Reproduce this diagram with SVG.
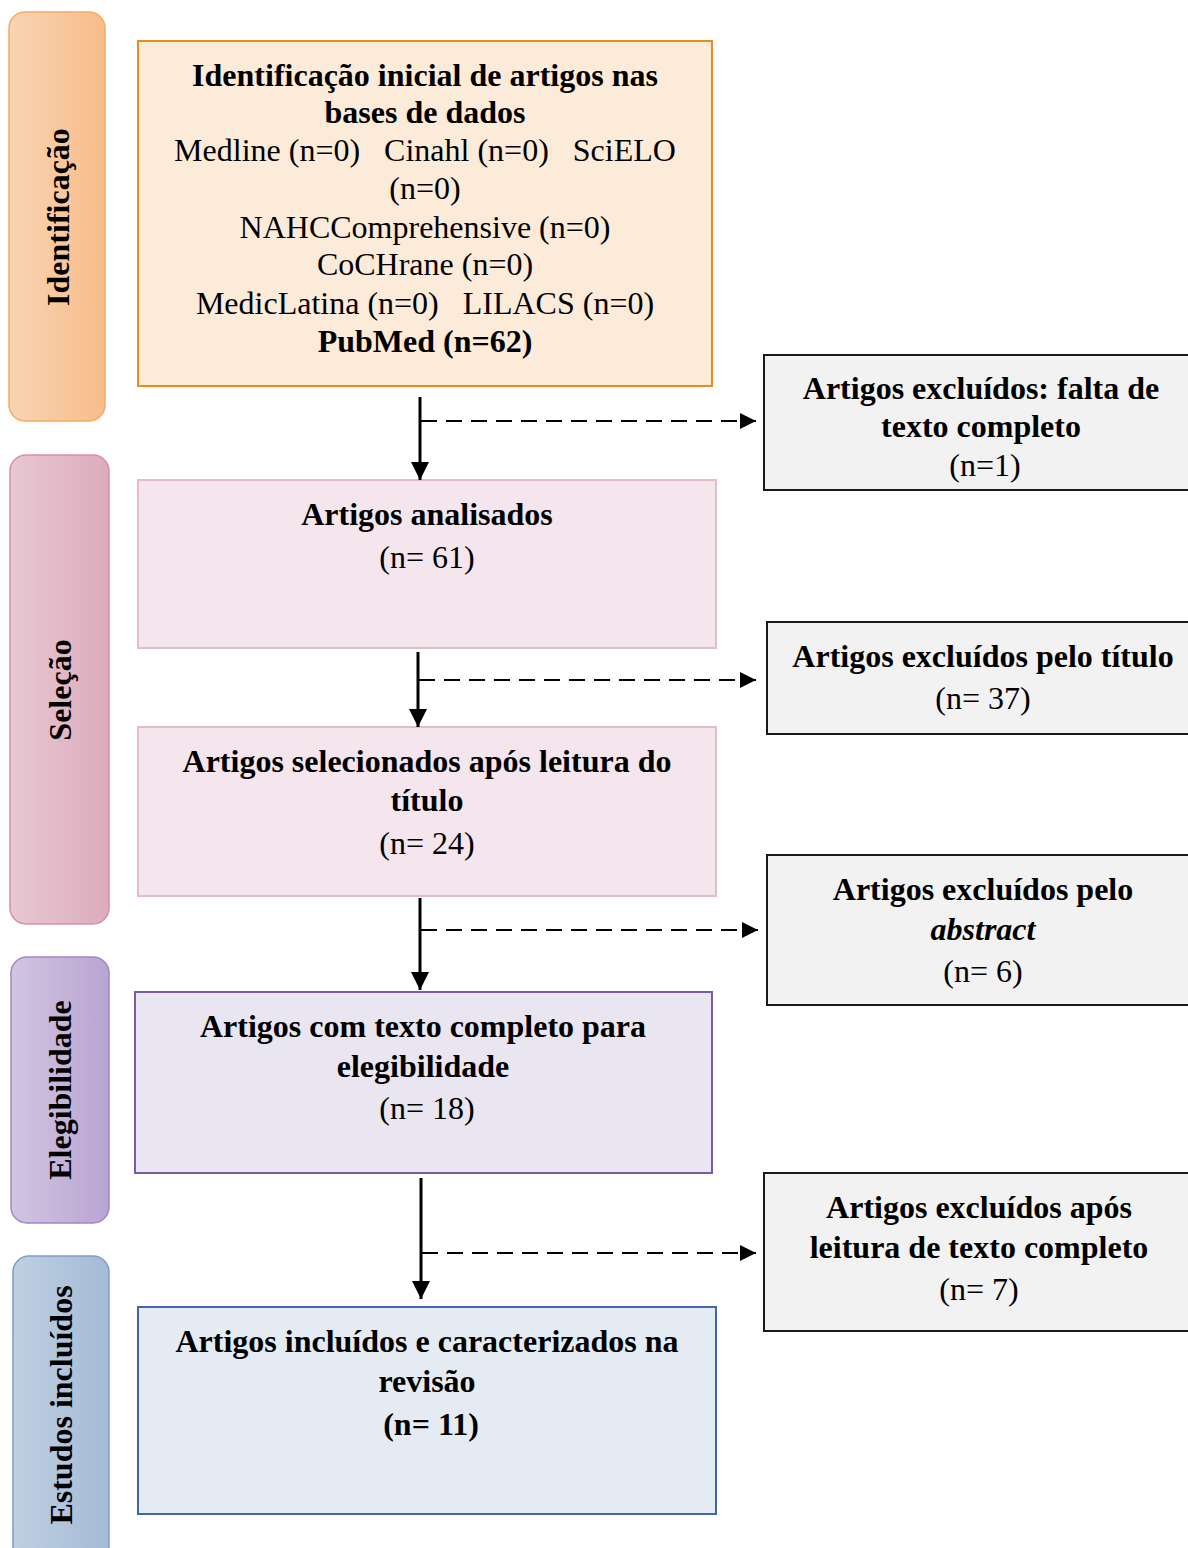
<svg xmlns="http://www.w3.org/2000/svg" width="1188" height="1548" viewBox="0 0 1188 1548">
<defs>
<linearGradient id="gO" x1="0" x2="1" y1="0" y2="0"><stop offset="0" stop-color="#f9d4b3"/><stop offset="1" stop-color="#f8bd8a"/></linearGradient>
<linearGradient id="gP" x1="0" x2="1" y1="0" y2="0"><stop offset="0" stop-color="#e8c7d3"/><stop offset="1" stop-color="#ddacbc"/></linearGradient>
<linearGradient id="gV" x1="0" x2="1" y1="0" y2="0"><stop offset="0" stop-color="#d2c5e2"/><stop offset="1" stop-color="#b9a4d2"/></linearGradient>
<linearGradient id="gB" x1="0" x2="1" y1="0" y2="0"><stop offset="0" stop-color="#bed0e2"/><stop offset="1" stop-color="#a5bad6"/></linearGradient>
<marker id="ah" viewBox="0 0 10 10" refX="10" refY="5" markerWidth="6" markerHeight="6" orient="auto" markerUnits="strokeWidth"><path d="M0,0 L10,5 L0,10 z" fill="#000"/></marker>
<marker id="ah2" viewBox="0 0 10 10" refX="10" refY="5" markerWidth="9" markerHeight="8" orient="auto" markerUnits="strokeWidth"><path d="M0,0 L10,5 L0,10 z" fill="#000"/></marker>
</defs>
<style>
text{font-family:"Liberation Serif","Times New Roman",serif;font-size:32px;fill:#000;text-anchor:middle;white-space:pre}
.b{font-weight:bold}
.side{font-weight:bold;font-size:32px}
.ex{fill:#f2f2f2;stroke:#1a1a1a;stroke-width:2}
.solid{stroke:#000;stroke-width:3;fill:none}
.dash{stroke:#000;stroke-width:2;fill:none;stroke-dasharray:16 9}
</style>
<g id="phase-identificacao">
<rect x="9" y="12" width="96" height="409" rx="16" fill="url(#gO)" stroke="#f2ab63" stroke-width="1.5"/>
<text class="side" transform="translate(69,217) rotate(-90)">Identificação</text>
</g>
<g id="phase-selecao">
<rect x="10" y="455" width="99" height="469" rx="16" fill="url(#gP)" stroke="#d690a6" stroke-width="1.5"/>
<text class="side" transform="translate(71,690) rotate(-90)">Seleção</text>
</g>
<g id="phase-elegibilidade">
<rect x="11" y="957" width="98" height="266" rx="16" fill="url(#gV)" stroke="#a386c2" stroke-width="1.5"/>
<text class="side" transform="translate(71,1090) rotate(-90)">Elegibilidade</text>
</g>
<g id="phase-incluidos">
<rect x="13" y="1256" width="96" height="310" rx="16" fill="url(#gB)" stroke="#7f9dc4" stroke-width="1.5"/>
<text class="side" transform="translate(72,1405) rotate(-90)">Estudos incluídos</text>
</g>
<g id="box-identificacao">
<rect x="138" y="41" width="574" height="345" fill="#fdebd9" stroke="#e98c1e" stroke-width="2"/>
<text class="b" x="425" y="86">Identificação inicial de artigos nas</text>
<text class="b" x="425" y="123">bases de dados</text>
<text x="425" y="161">Medline (n=0)   Cinahl (n=0)   SciELO</text>
<text x="425" y="199">(n=0)</text>
<text x="425" y="238">NAHCComprehensive (n=0)</text>
<text x="425" y="275">CoCHrane (n=0)</text>
<text x="425" y="314">MedicLatina (n=0)   LILACS (n=0)</text>
<text class="b" x="425" y="352">PubMed (n=62)</text>
</g>
<g id="box-analisados">
<rect x="138" y="480" width="578" height="168" fill="#f4e6ec" stroke="#e6bccb" stroke-width="2"/>
<text class="b" x="427" y="525">Artigos analisados</text>
<text x="427" y="568">(n= 61)</text>
</g>
<g id="box-titulo">
<rect x="138" y="727" width="578" height="169" fill="#f4e6ec" stroke="#e6bccb" stroke-width="2"/>
<text class="b" x="427" y="772">Artigos selecionados após leitura do</text>
<text class="b" x="427" y="811">título</text>
<text x="427" y="854">(n= 24)</text>
</g>
<g id="box-elegibilidade">
<rect x="135" y="992" width="577" height="181" fill="#e9e5f1" stroke="#7b5ca2" stroke-width="2"/>
<text class="b" x="423" y="1037">Artigos com texto completo para</text>
<text class="b" x="423" y="1077">elegibilidade</text>
<text x="427" y="1119">(n= 18)</text>
</g>
<g id="box-incluidos">
<rect x="138" y="1307" width="578" height="207" fill="#e5ebf3" stroke="#3f67aa" stroke-width="2"/>
<text class="b" x="427" y="1352">Artigos incluídos e caracterizados na</text>
<text class="b" x="427" y="1392">revisão</text>
<text class="b" x="431" y="1435">(n= 11)</text>
</g>
<g id="ex-texto">
<rect class="ex" x="764" y="355" width="430" height="135"/>
<text class="b" x="981" y="399">Artigos excluídos: falta de</text>
<text class="b" x="981" y="437">texto completo</text>
<text x="985" y="476">(n=1)</text>
</g>
<g id="ex-titulo">
<rect class="ex" x="767" y="622" width="427" height="112"/>
<text class="b" x="983" y="667">Artigos excluídos pelo título</text>
<text x="983" y="709">(n= 37)</text>
</g>
<g id="ex-abstract">
<rect class="ex" x="767" y="855" width="427" height="150"/>
<text class="b" x="983" y="900">Artigos excluídos pelo</text>
<text class="b" x="983" y="940" font-style="italic">abstract</text>
<text x="983" y="982">(n= 6)</text>
</g>
<g id="ex-completo">
<rect class="ex" x="764" y="1173" width="430" height="158"/>
<text class="b" x="979" y="1218">Artigos excluídos após</text>
<text class="b" x="979" y="1258">leitura de texto completo</text>
<text x="979" y="1300">(n= 7)</text>
</g>
<g id="connectors">
<line class="solid" x1="420" y1="397" x2="420" y2="480" marker-end="url(#ah)"/>
<line class="dash" x1="421" y1="421" x2="756" y2="421" marker-end="url(#ah2)"/>
<line class="solid" x1="418" y1="652" x2="418" y2="727" marker-end="url(#ah)"/>
<line class="dash" x1="419" y1="680" x2="756" y2="680" marker-end="url(#ah2)"/>
<line class="solid" x1="420" y1="898" x2="420" y2="990" marker-end="url(#ah)"/>
<line class="dash" x1="421" y1="930" x2="758" y2="930" marker-end="url(#ah2)"/>
<line class="solid" x1="421" y1="1178" x2="421" y2="1299" marker-end="url(#ah)"/>
<line class="dash" x1="422" y1="1253" x2="756" y2="1253" marker-end="url(#ah2)"/>
</g>
</svg>
